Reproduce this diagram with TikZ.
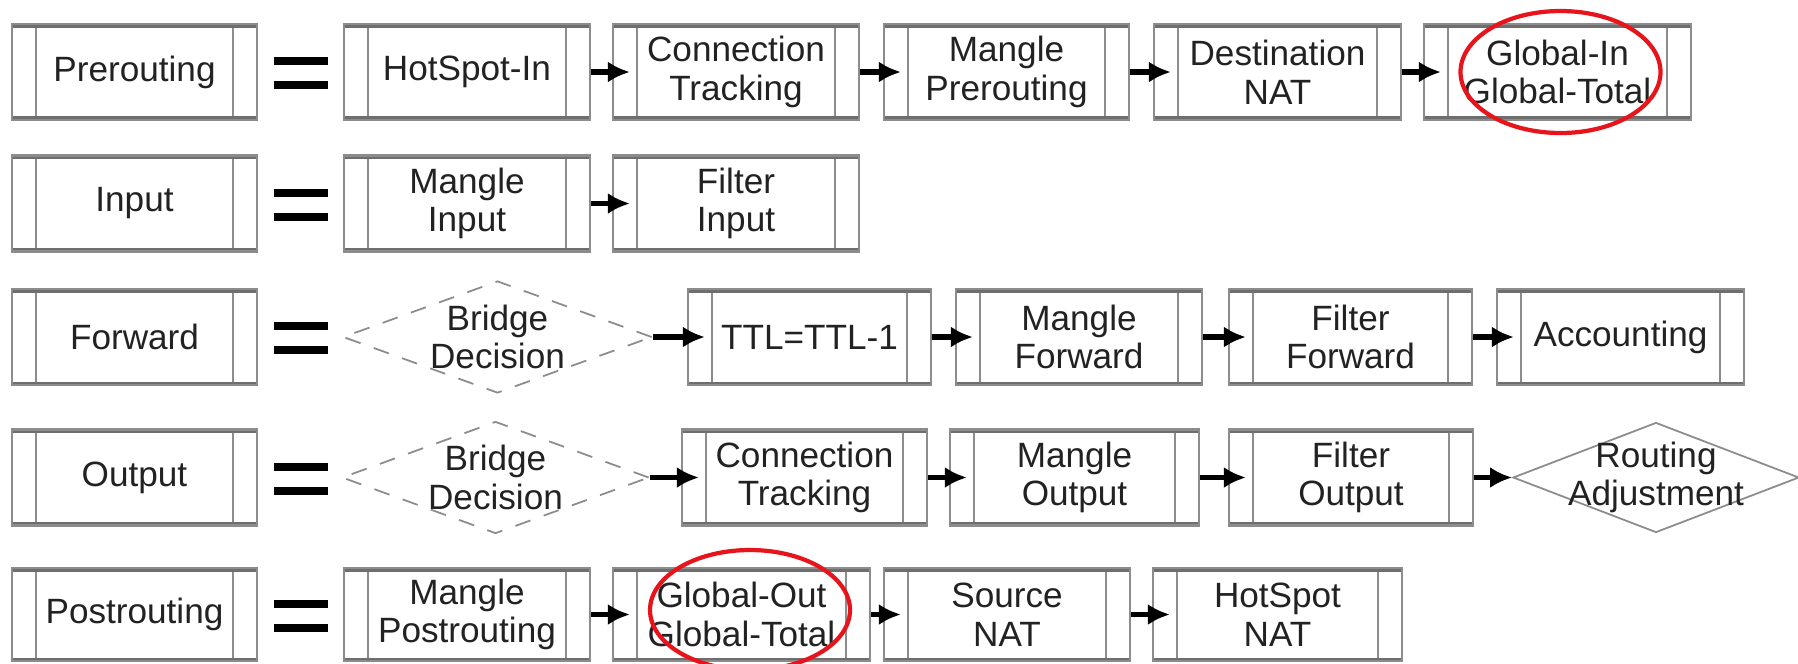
\documentclass[tikz,border=0pt]{standalone}
\usepackage{fontspec}
\setmainfont{Liberation Sans}
\usetikzlibrary{arrows.meta,shapes.geometric,calc}
\definecolor{edge}{HTML}{6E6E6E}
\definecolor{side}{HTML}{8C8C8C}
\definecolor{ink}{HTML}{222222}
\definecolor{circlered}{HTML}{E8141B}
\tikzset{
  proc/.style={rectangle, draw=side, line width=0.6pt, minimum width=2.46cm, minimum height=0.96cm,
               inner sep=0pt, align=center, text=ink, font=\fontsize{10}{11}\selectfont,
               path picture={
                 \draw[side, line width=0.7pt]
                   ([xshift=2.4mm]path picture bounding box.north west) -- ([xshift=2.4mm]path picture bounding box.south west)
                   ([xshift=-2.4mm]path picture bounding box.north east) -- ([xshift=-2.4mm]path picture bounding box.south east);
                 \draw[edge, line width=2pt]
                   (path picture bounding box.north west) -- (path picture bounding box.north east)
                   (path picture bounding box.south west) -- (path picture bounding box.south east);
               }},
  decide/.style={diamond, draw=side, line width=0.5pt, minimum width=3.08cm, minimum height=1.12cm, inner sep=0pt},
  bridge/.style={decide, dash pattern=on 1.6mm off 1.4mm},
  lbl/.style={font=\fontsize{10}{11}\selectfont, text=ink, align=center},
  flow/.style={-{Latex[length=2.2mm,width=2.1mm]}, line width=1.5pt, black, shorten >=-1.8mm},
  hilite/.style={draw=circlered, line width=1.2pt},
  eqbar/.style={fill=black}
}

\begin{document}
\begin{tikzpicture}
  \path[use as bounding box, fill=white] (0,0) rectangle (17.98,-6.63);

  % prerouting
  \node[proc, minimum width=2.45cm] (pre) at (1.345,-0.72) {Prerouting};
  \node[proc] (hsin) at (4.67,-0.72) {HotSpot-In};
  \node[proc] (ct1) at (7.36,-0.72) {Connection\\Tracking};
  \node[proc, minimum width=2.45cm] (mpre) at (10.065,-0.72) {Mangle\\Prerouting};
  \node[proc, minimum width=2.47cm] (dnat) at (12.775,-0.72) {Destination\\NAT};
  \node[proc, minimum width=2.67cm] (gin) at (15.575,-0.72) {Global-In\\Global-Total};

  % input
  \node[proc, minimum width=2.45cm] (inp) at (1.345,-2.035) {Input};
  \node[proc] (min) at (4.67,-2.035) {Mangle\\Input};
  \node[proc] (fin) at (7.36,-2.035) {Filter\\Input};

  % forward
  \node[proc, minimum width=2.45cm] (fwd) at (1.345,-3.37) {Forward};
  \node[bridge, minimum width=3.09cm, label={[lbl]center:Bridge\\Decision}] (bd1) at (4.975,-3.37) {};
  \node[proc, minimum width=2.43cm] (ttl) at (8.095,-3.37) {TTL=TTL-1};
  \node[proc] (mfwd) at (10.79,-3.37) {Mangle\\Forward};
  \node[proc, minimum width=2.43cm] (ffwd) at (13.505,-3.37) {Filter\\Forward};
  \node[proc, minimum width=2.47cm] (acct) at (16.205,-3.37) {Accounting};

  % output
  \node[proc, minimum width=2.45cm] (out) at (1.345,-4.775) {Output};
  \node[bridge, minimum width=3.07cm, label={[lbl]center:Bridge\\Decision}] (bd2) at (4.955,-4.775) {};
  \node[proc, minimum width=2.45cm] (ct2) at (8.045,-4.775) {Connection\\Tracking};
  \node[proc, minimum width=2.49cm] (mout) at (10.745,-4.775) {Mangle\\Output};
  \node[proc, minimum width=2.44cm] (fout) at (13.51,-4.775) {Filter\\Output};
  \node[decide, minimum width=2.86cm, minimum height=1.1cm, label={[lbl]center:Routing\\Adjustment}] (radj) at (16.56,-4.775) {};

  % postrouting
  \node[proc, minimum width=2.45cm, minimum height=0.93cm] (post) at (1.345,-6.145) {Postrouting};
  \node[proc, minimum height=0.93cm] (mpost) at (4.67,-6.145) {Mangle\\Postrouting};
  \node[proc, minimum width=2.57cm, minimum height=0.93cm] (gout) at (7.415,-6.145) {Global-Out\\Global-Total};
  \node[proc, minimum height=0.93cm] (snat) at (10.07,-6.145) {Source\\NAT};
  \node[proc, minimum width=2.49cm, minimum height=0.93cm] (hnat) at (12.775,-6.145) {HotSpot\\NAT};

  % equals signs
  \foreach \n in {pre,inp,fwd,out,post} {
    \fill[eqbar] ($(\n.east)+(0.16,0.15)$) rectangle ++(0.54,-0.08);
    \fill[eqbar] ($(\n.east)+(0.16,-0.09)$) rectangle ++(0.54,-0.08);
  }

  % chains
  \draw[flow] (hsin) -- (ct1);
  \draw[flow] (ct1) -- (mpre);
  \draw[flow] (mpre) -- (dnat);
  \draw[flow] (dnat) -- (gin);
  \draw[flow] (min) -- (fin);
  \draw[flow] (bd1) -- (ttl);
  \draw[flow] (ttl) -- (mfwd);
  \draw[flow] (mfwd) -- (ffwd);
  \draw[flow] (ffwd) -- (acct);
  \draw[flow] (bd2) -- (ct2);
  \draw[flow] (ct2) -- (mout);
  \draw[flow] (mout) -- (fout);
  \draw[flow, shorten >=0pt] (fout) -- (radj);
  \draw[flow] (mpost) -- (gout);
  \draw[flow] (gout) -- (snat);
  \draw[flow] (snat) -- (hnat);

  % highlights
  \draw[hilite] ([xshift=0.03cm]gin.center) ellipse (1.0cm and 0.61cm);
  \draw[hilite] ([xshift=0.085cm,yshift=0.045cm]gout.center) ellipse (1.0cm and 0.6cm);
\end{tikzpicture}
\end{document}
